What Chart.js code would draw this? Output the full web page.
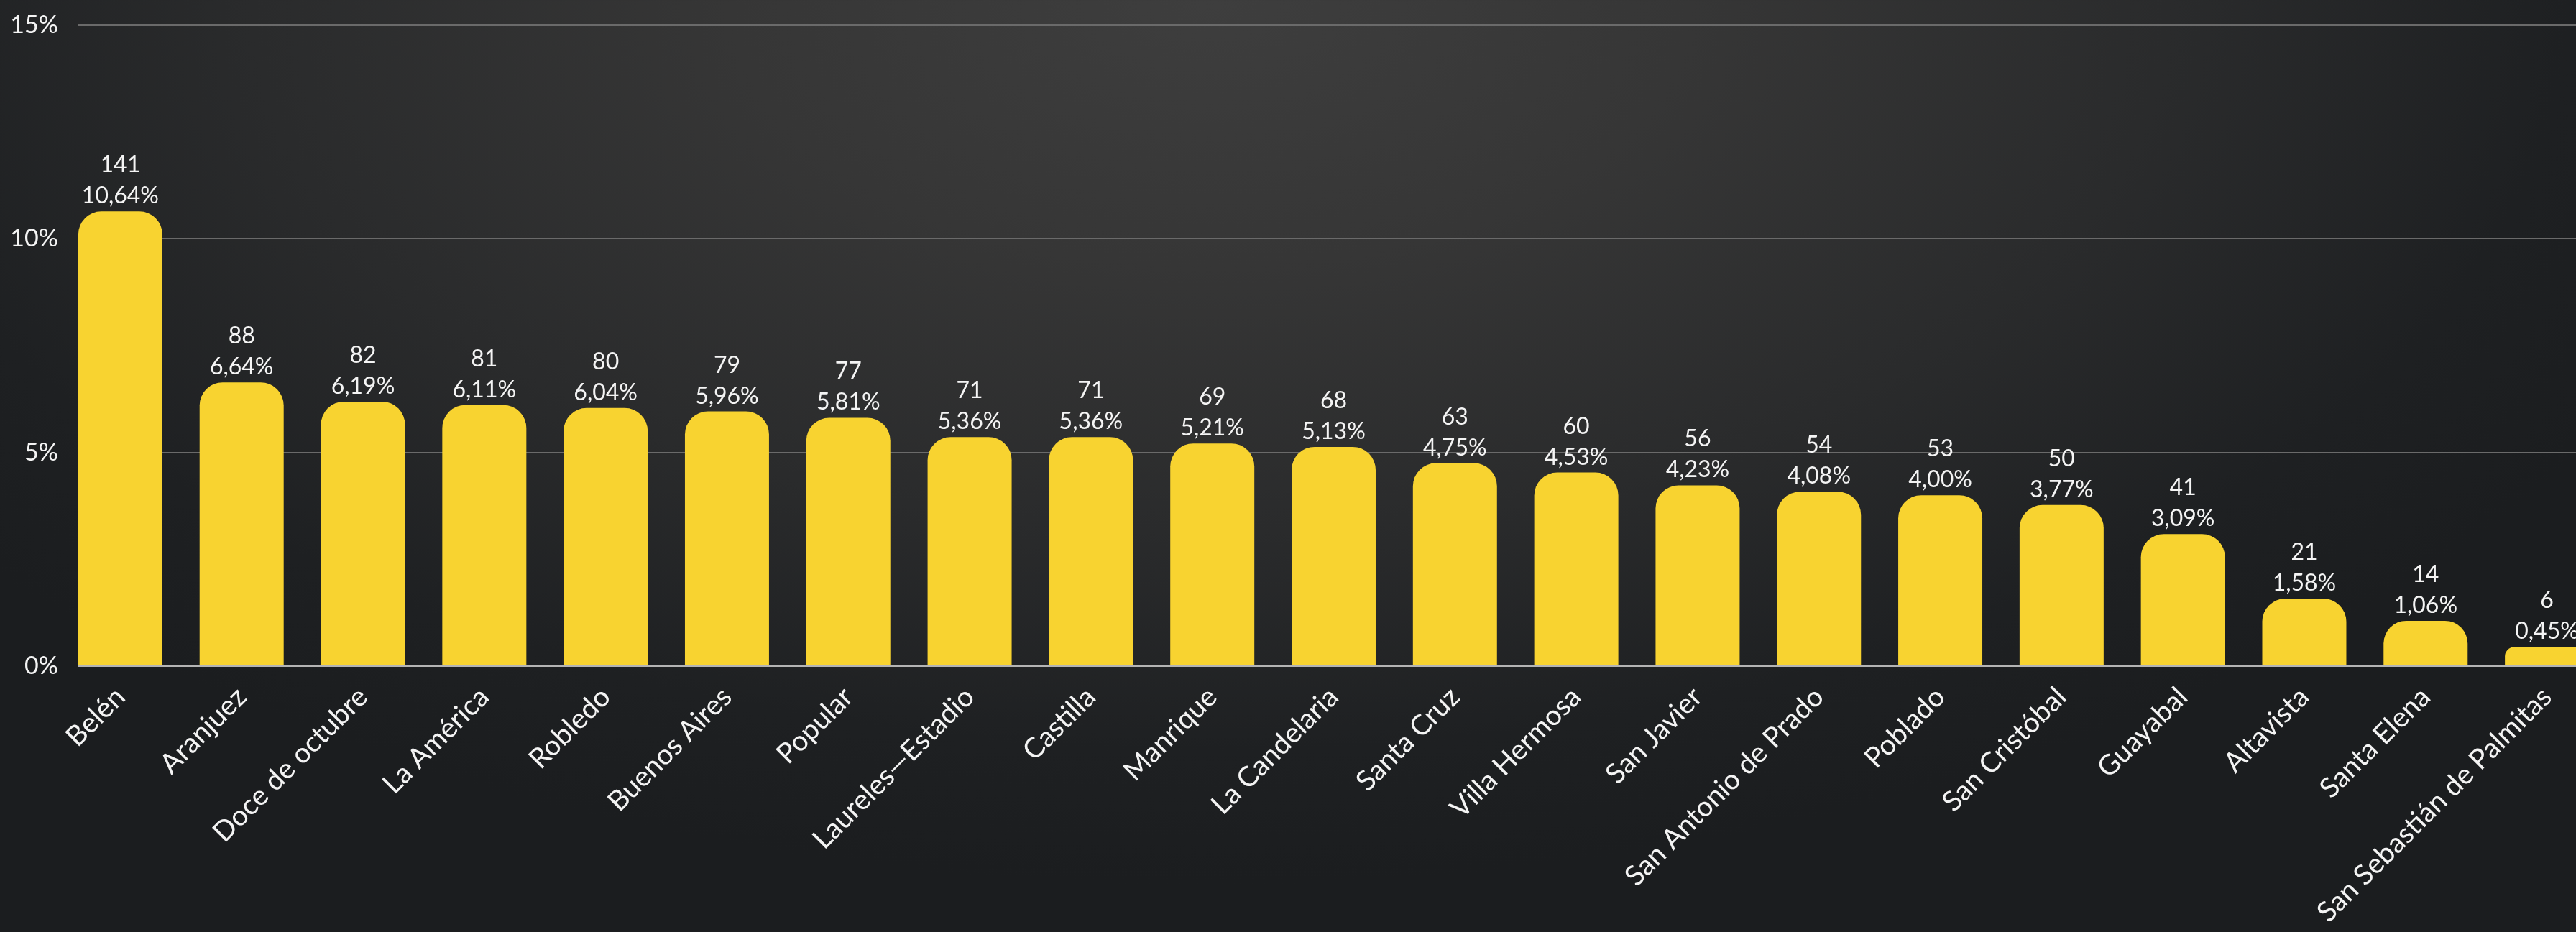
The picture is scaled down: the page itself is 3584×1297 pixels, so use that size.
<!DOCTYPE html>
<html><head><meta charset="utf-8">
<script src="https://cdn.jsdelivr.net/npm/chart.js@4.4.1/dist/chart.umd.min.js"></script>
<style>
html,body{margin:0;padding:0;width:3584px;height:1297px;overflow:hidden;}
body{background:radial-gradient(ellipse 62% 95% at 47% 0%, #3e3e3e 0%, #363636 30%, #2a2b2c 60%, #1e2022 85%, #1b1d1f 100%);}
#wrap{position:absolute;left:0;top:0;width:3640px;height:1297px;}
</style></head>
<body><div id="wrap"><canvas id="c" width="3640" height="1297"></canvas></div>
<script>
const categories = ["Belén","Aranjuez","Doce de octubre","La América","Robledo","Buenos Aires","Popular","Laureles—Estadio","Castilla","Manrique","La Candelaria","Santa Cruz","Villa Hermosa","San Javier","San Antonio de Prado","Poblado","San Cristóbal","Guayabal","Altavista","Santa Elena","San Sebastián de Palmitas"];
const counts = [141,88,82,81,80,79,77,71,71,69,68,63,60,56,54,53,50,41,21,14,6];
const percents = [10.64,6.64,6.19,6.11,6.04,5.96,5.81,5.36,5.36,5.21,5.13,4.75,4.53,4.23,4.08,4.00,3.77,3.09,1.58,1.06,0.45];
const yTickValues = [0,5,10,15];

const FONT = "Lato, 'Noto Sans', sans-serif";
const TEXT = '#f4f4f4';
const fmtPct = v => v.toFixed(2).replace('.', ',') + '%';

const gridPlugin = {
  id: 'customGrid',
  beforeDatasetsDraw(chart) {
    const ctx = chart.ctx, y = chart.scales.y;
    const bar0 = chart.getDatasetMeta(0).data[0];
    const x0 = bar0.x - bar0.width / 2;
    ctx.save();
    ctx.lineWidth = 2;
    y.ticks.forEach(t => {
      if (t.value === 0) return;
      const py = Math.round(y.getPixelForValue(t.value));
      ctx.strokeStyle = '#6a6a6a';
      ctx.beginPath(); ctx.moveTo(x0, py); ctx.lineTo(chart.chartArea.right, py); ctx.stroke();
    });
    ctx.restore();
  },
  afterDatasetsDraw(chart) {
    const ctx = chart.ctx, y = chart.scales.y;
    const meta = chart.getDatasetMeta(0);
    const bar0 = meta.data[0];
    const x0 = bar0.x - bar0.width / 2;
    ctx.save();
    const py = Math.round(y.getPixelForValue(0));
    ctx.strokeStyle = '#b4b4b4'; ctx.lineWidth = 2;
    ctx.beginPath(); ctx.moveTo(x0, py); ctx.lineTo(chart.chartArea.right, py); ctx.stroke();
    ctx.fillStyle = TEXT;
    ctx.textAlign = 'center';
    ctx.textBaseline = 'alphabetic';
    ctx.font = "32px " + FONT;
    meta.data.forEach((bar, i) => {
      ctx.fillText(fmtPct(percents[i]), bar.x, bar.y - 11);
      ctx.fillText(String(counts[i]), bar.x, bar.y - 54);
    });
    ctx.restore();
  }
};

new Chart(document.getElementById('c'), {
  type: 'bar',
  data: {
    labels: categories,
    datasets: [{
      data: percents,
      backgroundColor: '#F8D330',
      borderWidth: 0,
      borderRadius: {topLeft: 32, topRight: 32, bottomLeft: 0, bottomRight: 0},
      borderSkipped: 'start',
      categoryPercentage: 0.693,
      barPercentage: 1.0
    }]
  },
  options: {
    responsive: false,
    animation: false,
    devicePixelRatio: 1,
    layout: {padding: {top: 35, right: 12, left: 0, bottom: 0}},
    plugins: {legend: {display: false}, tooltip: {enabled: false}},
    scales: {
      x: {
        offset: true,
        grid: {display: false, drawTicks: false},
        border: {display: false},
        ticks: {
          color: TEXT, font: {family: FONT, size: 39},
          minRotation: 45, maxRotation: 45, autoSkip: false, padding: 20
        },
        afterFit(s) { s.height = 370; s.paddingLeft = 0; s.paddingRight = 0; }
      },
      y: {
        min: 0, max: 15,
        afterBuildTicks(s) { s.ticks = yTickValues.map(v => ({value: v})); },
        grid: {display: false, drawTicks: false},
        border: {display: false},
        ticks: {color: TEXT, font: {family: FONT, size: 34}, padding: 2, callback: v => v + '%'},
        afterFit(s) { s.width = 83; s.paddingTop = 0; s.paddingBottom = 0; }
      }
    }
  },
  plugins: [gridPlugin]
});
</script>
</body></html>
